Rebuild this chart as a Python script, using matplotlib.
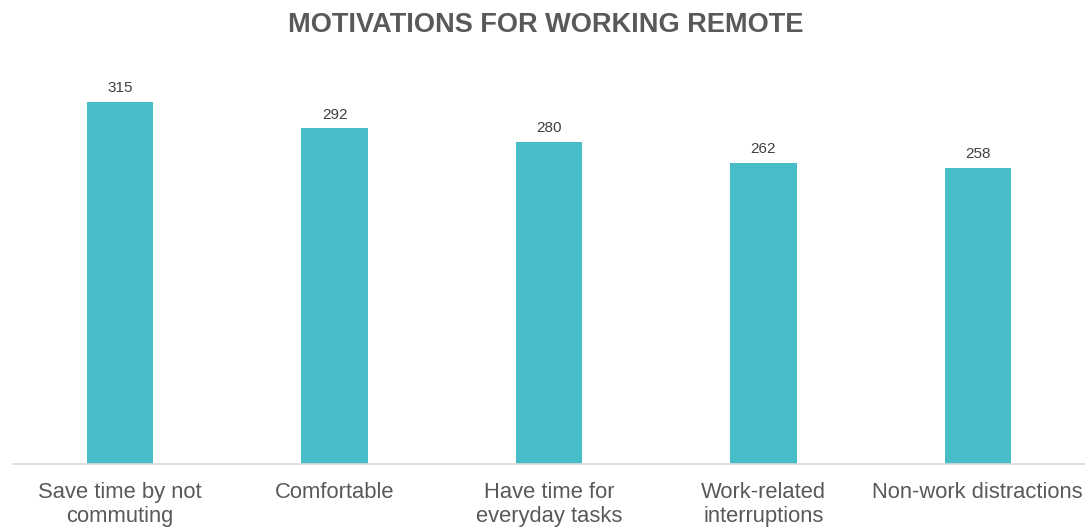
import matplotlib.pyplot as plt

categories = ["Save time by not\ncommuting", "Comfortable", "Have time for\neveryday tasks",
              "Work-related\ninterruptions", "Non-work distractions"]
counts = [315, 292, 280, 262, 258]

plt.rcParams['font.family'] = ['Liberation Sans', 'DejaVu Sans']

fig = plt.figure(figsize=(10.85, 5.28), dpi=100)
ax = fig.add_axes([13 / 1085, (528 - 464) / 528, 1 - 13 / 1085, (464 - 60) / 528])

x = range(len(categories))
bars = ax.bar(x, counts, width=0.31, color='#47BDC7')
for b, v in zip(bars, counts):
    ax.text(b.get_x() + b.get_width() / 2, v + 6, str(v), ha='center', va='bottom',
            fontsize=11, color='#404040')

ax.set_xlim(-0.5, len(categories) - 0.5)
ax.set_ylim(0, 351.6)
ax.set_xticks(list(x))
ax.set_xticklabels(categories, fontsize=15.8, color='#595959', linespacing=1.2)
ax.tick_params(axis='x', length=0, pad=13)
ax.set_yticks([])
for side in ['top', 'right', 'left']:
    ax.spines[side].set_visible(False)
ax.spines['bottom'].set_color('#D9D9D9')
ax.spines['bottom'].set_linewidth(1.2)

fig.text(546 / 1085, 1 - 25 / 528, "MOTIVATIONS FOR WORKING REMOTE", ha='center', va='center',
         fontsize=19.5, fontweight='bold', color='#595959')

fig.savefig('out.png', dpi=100)
